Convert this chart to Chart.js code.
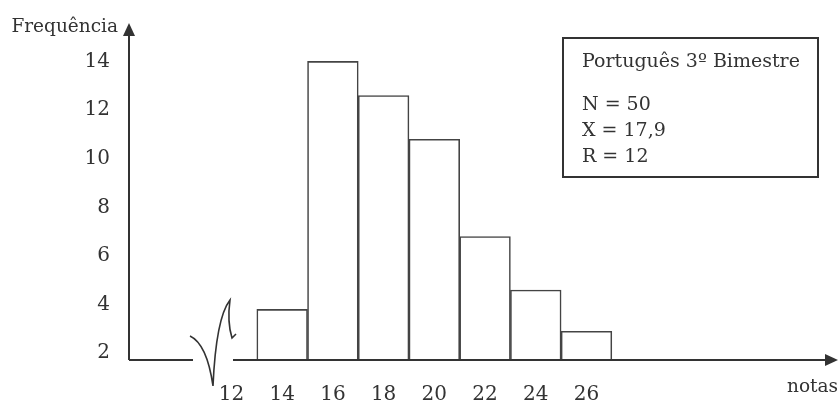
<!DOCTYPE html>
<html>
<head>
  <title>Frequência das notas</title>
  <script src="https://cdn.jsdelivr.net/npm/chart.js"></script>
  <style>
    body { margin: 0; background: #fff; }
    #wrap { width: 839px; height: 401px; }
  </style>
</head>
<body>
<div id="wrap"><canvas id="histo" width="839" height="401"></canvas></div>
<script>
  // class centres (notas) and frequencies
  const centres = [14, 16, 18, 20, 22, 24, 26];
  const freqs = [3.8, 14, 12.6, 10.8, 6.8, 4.6, 2.9];
  const xTicks = [12, 14, 16, 18, 20, 22, 24, 26];
  const yTicks = [2, 4, 6, 8, 10, 12, 14];
  const boxLines = ['N = 50', 'X = 17,9', 'R = 12'];
  const boxTitle = 'Português 3º Bimestre';

  const ink = '#333333';
  const serif = 'DejaVu Serif';

  // axes with arrows, the break on the x axis and the info box
  const decor = {
    id: 'decor',
    afterDraw(chart) {
      const c = chart.ctx, a = chart.chartArea;
      c.save();
      c.strokeStyle = ink;
      c.fillStyle = ink;
      c.lineWidth = 2;
      // y axis
      c.beginPath();
      c.moveTo(a.left, a.bottom);
      c.lineTo(a.left, a.top + 10);
      c.stroke();
      c.beginPath();
      c.moveTo(a.left, a.top);
      c.lineTo(a.left - 6, a.top + 13);
      c.lineTo(a.left + 6, a.top + 13);
      c.closePath();
      c.fill();
      // x axis, broken near 12
      c.beginPath();
      c.moveTo(a.left, a.bottom);
      c.lineTo(193, a.bottom);
      c.moveTo(233, a.bottom);
      c.lineTo(a.right - 6, a.bottom);
      c.stroke();
      c.beginPath();
      c.moveTo(a.right + 3, a.bottom);
      c.lineTo(a.right - 10, a.bottom - 6);
      c.lineTo(a.right - 10, a.bottom + 6);
      c.closePath();
      c.fill();
      // squiggle
      c.lineWidth = 1.6;
      c.beginPath();
      c.moveTo(190, 336);
      c.quadraticCurveTo(207, 344, 213, 386);
      c.quadraticCurveTo(216, 318, 230, 300);
      c.quadraticCurveTo(227, 322, 232, 338);
      c.lineTo(236, 334);
      c.stroke();
      // axis names
      c.font = '18.5px "' + serif + '"';
      c.textBaseline = 'middle';
      c.textAlign = 'right';
      c.fillText('Frequência', 118, 27);
      c.fillText('notas', 838, 387);
      // info box
      c.lineWidth = 2;
      c.strokeRect(563, 38, 255, 139);
      c.font = '19px "' + serif + '"';
      c.textAlign = 'left';
      c.fillText(boxTitle, 582, 62);
      boxLines.forEach((t, i) => c.fillText(t, 582, 105 + i * 26));
      c.restore();
    }
  };

  const ctx = document.getElementById('histo').getContext('2d');
  const chart = new Chart(ctx, {
    type: 'bar',
    data: {
      datasets: [{
        data: centres.map((x, i) => ({ x: x, y: freqs[i] })),
        backgroundColor: '#ffffff',
        borderColor: '#444444',
        borderWidth: 1.6,
        borderSkipped: 'start',
        barPercentage: 1,
        categoryPercentage: 1
      }]
    },
    options: {
      responsive: false,
      animation: false,
      layout: { padding: { top: 18, right: 4, left: 0, bottom: 0 } },
      plugins: { legend: { display: false }, tooltip: { enabled: false } },
      scales: {
        x: {
          type: 'linear',
          offset: false,
          min: 7.96,
          max: 35.8,
          grid: { display: false },
          border: { display: false },
          afterBuildTicks: s => { s.ticks = xTicks.map(v => ({ value: v })); },
          afterFit: s => { s.height = 41; },
          ticks: { color: ink, padding: 15, maxRotation: 0, font: { family: serif, size: 20 } }
        },
        y: {
          min: 1.72,
          max: 15.58,
          grid: { display: false },
          border: { display: false },
          afterBuildTicks: s => { s.ticks = yTicks.map(v => ({ value: v })); },
          afterFit: s => { s.width = 129; },
          ticks: { color: ink, padding: 11, font: { family: serif, size: 20 } }
        }
      }
    },
    plugins: [decor]
  });
</script>
</body>
</html>
